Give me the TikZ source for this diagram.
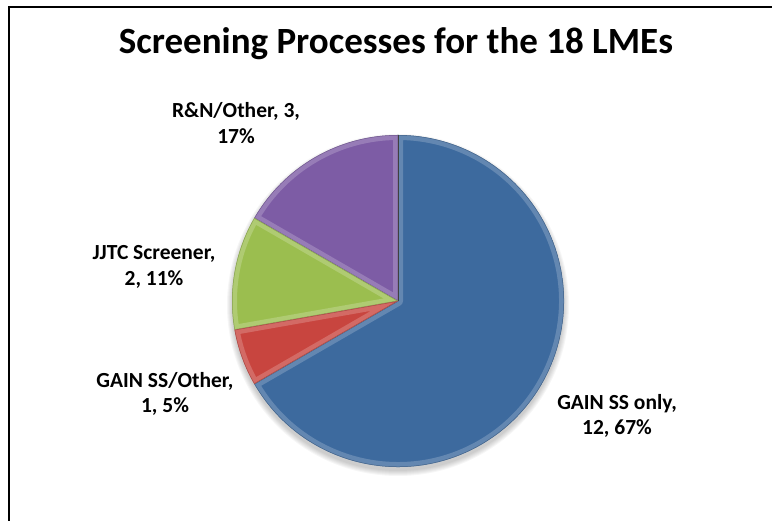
\documentclass[tikz,border=0pt]{standalone}
\usepackage{fontspec}
\setmainfont{Carlito}
\definecolor{sliceblue}{HTML}{3D6A9E}
\definecolor{slicered}{HTML}{C8453F}
\definecolor{slicegreen}{HTML}{9BBE4F}
\definecolor{slicepurple}{HTML}{7D5CA5}
\begin{document}
\begin{tikzpicture}[x=1pt, y=1pt,
    lbl/.style={font=\bfseries\fontsize{21.5}{25.5}\selectfont, align=center, inner sep=0pt}]
    \useasboundingbox (0,0) rectangle (772,521);

    % frame, only left and top show
    \draw[line width=2pt] (9,-10) -- (9,514) -- (790,514);

    \coordinate (O) at (398,220);

    % soft shadow under the pie
    \foreach \i in {1,...,6}
      \fill[black, opacity=0.035] (398,216) circle ({165+\i});

    % slices, clockwise from the top
    \foreach \a/\b/\c in {-150/90/sliceblue, 90/150/slicepurple,
                          150/190/slicegreen, 190/210/slicered} {
      \fill[\c] (O) -- ++(\a:166) arc (\a:\b:166) -- cycle;
      \begin{scope}
        \clip (O) -- ++(\a:166) arc (\a:\b:166) -- cycle;
        \draw[white, opacity=0.2, line width=10pt, line join=round]
          (O) -- ++(\a:166) arc (\a:\b:166) -- cycle;
        \draw[\c!70!black, opacity=0.6, line width=1pt]
          (O) -- ++(\a:166) arc (\a:\b:166) -- cycle;
      \end{scope}
    }
    \draw[black!75, line width=0.8pt] (O) -- ++(90:166);

    \node[font=\bfseries\fontsize{37}{44}\selectfont, anchor=base] (T) at (396,467)
      {Screening Processes for the 18 LMEs};

    \node[lbl] (P) at (236,398) {R\&N/Other, 3,\\17\%};
    \node[lbl] (G) at (154,254) {JJTC Screener,\\2, 11\%};
    \node[lbl] (R) at (165,127) {GAIN SS/Other,\\1, 5\%};
    \node[lbl] (B) at (617,105) {GAIN SS only,\\12, 67\%};
  \end{tikzpicture}
\end{document}
